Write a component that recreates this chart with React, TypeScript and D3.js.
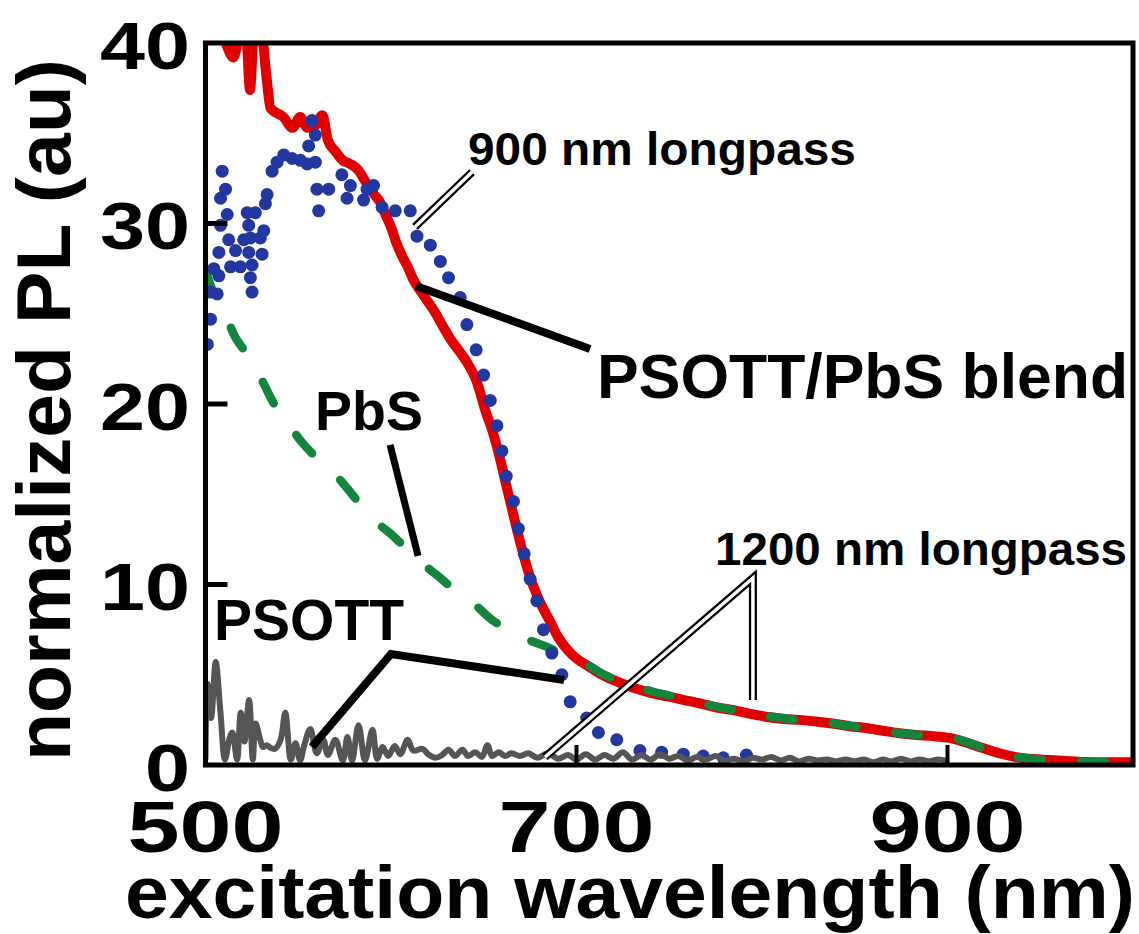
import React from "react";
import * as d3 from "d3";

const W = 1139;
const H = 934;

// PSOTT/PbS blend (red)
const blendNm = [505, 510, 515, 519, 522, 524, 526, 530, 533, 535, 542, 547, 551, 555, 559, 563, 566, 570, 574, 578, 582, 587, 591, 594, 597, 600, 603, 606, 609, 612, 615, 619, 623, 628, 632, 637, 641, 646, 651, 655, 658, 661, 664, 668, 671, 675, 680, 686, 690, 695, 700, 706, 712, 720, 730, 740, 749, 758, 767, 775, 784, 793, 803, 812, 820, 830, 838, 847, 856, 865, 873, 883, 892, 901, 910, 919, 928, 937, 946, 955, 964, 973, 985, 999];
const blendPL = [41, 40.2, 39.2, 40.6, 40.3, 37.4, 40.4, 40.6, 38, 36.4, 35.9, 35.3, 35.9, 35.3, 35.4, 36.0, 34.6, 34.0, 33.5, 33.3, 33.0, 32.2, 31.6, 31.2, 30.5, 29.8, 28.9, 28.2, 27.6, 26.9, 26.4, 25.8, 25.2, 24.3, 23.6, 22.9, 22.3, 21.3, 19.6, 18.4, 17.3, 16.0, 14.7, 13.0, 11.8, 10.4, 9.1, 7.9, 7.1, 6.4, 5.9, 5.5, 5.1, 4.7, 4.3, 4.0, 3.8, 3.6, 3.4, 3.2, 3.05, 2.85, 2.66, 2.55, 2.5, 2.4, 2.3, 2.15, 2.05, 1.9, 1.77, 1.66, 1.6, 1.5, 1.25, 0.94, 0.65, 0.44, 0.33, 0.28, 0.22, 0.17, 0.15, 0.15];

// PbS (green dashed)
const pbsNm = [500, 503, 507, 512, 516, 522, 530, 537, 544, 551, 560, 569, 579, 589, 600, 614, 625, 633, 645, 655, 665, 675, 685, 695, 705, 715, 725, 740, 750, 760, 775, 790, 800, 815, 830, 845, 860, 875, 890, 905, 915, 925, 935, 950, 965, 980, 1000];
const pbsPL = [27.4, 26.5, 25.4, 24.6, 23.7, 22.8, 21.4, 20.0, 19.0, 18.0, 17.0, 16.2, 15.0, 13.7, 12.8, 11.4, 10.5, 9.8, 8.9, 8.0, 7.4, 6.9, 6.5, 6.0, 5.6, 5.0, 4.6, 4.1, 3.85, 3.6, 3.25, 2.95, 2.75, 2.55, 2.45, 2.2, 2.0, 1.75, 1.62, 1.45, 1.1, 0.75, 0.5, 0.3, 0.2, 0.17, 0.17];

// 900 nm longpass (blue dots)
const lp900Nm = [501, 502.7, 502.7, 504.5, 506.3, 507.2, 507.2, 508.1, 508.1, 509, 510.8, 511.7, 512.5, 513.5, 516.2, 518.8, 520.6, 522.5, 523.3, 523.3, 524.2, 524.2, 525.1, 525.1, 526.9, 529.6, 530.5, 531.4, 532.3, 533.2, 535.9, 538.6, 542.2, 546.7, 551.2, 554.8, 555.6, 557.4, 559.2, 559.2, 560.1, 561.0, 566.4, 573.5, 576.3, 578.1, 585.2, 587.1, 590.6, 595.2, 602.3, 610.4, 614.0, 621.2, 626.6, 631.0, 637.3, 640.9, 645.9, 649.9, 653.5, 657.1, 659.8, 662.1, 666.0, 668.7, 671.8, 675.0, 678.6, 682.2, 686.7, 692.1, 696.6, 705.5, 711.8, 721.7, 734.2, 745.9, 757.6, 768.3, 779.1, 791.6];
const lp900PL = [23.3, 24.7, 26.2, 27.5, 26.1, 27.1, 28.4, 29.9, 31.4, 32.9, 31.9, 30.5, 29.1, 27.6, 28.5, 27.6, 29.1, 30.6, 29.9, 28.4, 29.2, 27.0, 27.7, 26.2, 30.6, 29.2, 28.3, 29.6, 31.1, 31.6, 32.9, 33.4, 33.8, 33.6, 33.5, 33.3, 34.3, 35.7, 34.9, 33.4, 31.9, 30.7, 31.9, 32.7, 31.4, 32.1, 31.3, 31.9, 32.1, 30.9, 30.7, 30.7, 29.3, 28.8, 27.9, 27.0, 25.9, 24.4, 23.0, 21.6, 20.2, 18.8, 17.4, 16.0, 14.6, 13.1, 11.7, 10.3, 9.1, 7.5, 6.2, 5.0, 3.5, 2.6, 1.8, 1.4, 0.8, 0.7, 0.6, 0.5, 0.4, 0.55];

// PSOTT (grey)
const psottNm = [500, 501, 503, 505.5, 508, 510.5, 513, 514.5, 517, 519, 521, 523.5, 525.5, 527, 529.5, 531, 533, 535, 537.5, 540.5, 543, 546, 548.5, 551, 553, 556.5, 560, 563.5, 566, 570, 574, 576.5, 579, 582.5, 586, 590, 592.5, 595.5, 598.5, 602, 605, 609, 612, 617, 620, 624, 627.5, 631, 634.5, 638.5, 641.5, 645.5, 649, 652, 654.5, 658, 661.5, 665, 669.5, 674, 679, 684.5, 690, 695.5, 700, 705, 710, 715, 720, 725, 730, 735, 740, 745, 750, 755, 760, 765, 770, 775, 780, 785, 790, 795, 800, 805, 810, 815, 820, 825, 830, 835, 840, 845, 850, 855, 860, 865, 870, 875, 880, 885, 890, 895, 900];
const psottPL = [0.3, 4.5, 2.6, 5.7, 3.0, 0.3, 1.5, 1.8, 0.3, 2.9, 1.3, 3.6, 0.3, 2.3, 1.4, 1.0, 1.1, 0.95, 0.9, 1.4, 2.9, 0.3, 1.2, 0.25, 1.0, 2.0, 0.65, 1.4, 0.55, 1.4, 0.25, 1.55, 0.25, 2.2, 0.25, 1.95, 0.35, 1.0, 0.5, 1.05, 0.6, 1.4, 0.8, 0.9, 0.6, 0.4, 0.55, 0.85, 0.5, 0.85, 0.5, 0.7, 0.45, 1.1, 0.5, 0.7, 0.5, 0.65, 0.5, 0.65, 0.4, 0.65, 0.35, 0.55, 0.3, 0.6, 0.3, 0.55, 0.35, 0.7, 0.3, 0.55, 0.3, 0.6, 0.35, 0.5, 0.25, 0.45, 0.3, 0.5, 0.25, 0.35, 0.2, 0.4, 0.3, 0.45, 0.25, 0.4, 0.2, 0.35, 0.25, 0.3, 0.2, 0.3, 0.2, 0.3, 0.15, 0.3, 0.2, 0.35, 0.2, 0.3, 0.2, 0.3, 0.2];

const xTicks = [500, 700, 900];
const yTicks = [0, 10, 20, 30, 40];

const FONT = "'Liberation Sans', Arial, Helvetica, sans-serif";

export default function App() {
  const x = d3.scaleLinear().domain([500, 1000]).range([205.5, 1133]);
  const y = d3.scaleLinear().domain([0, 40]).range([765, 43]);
  const [x0, x1] = x.range();
  const [yb, yt] = y.range();

  const mk = (a: number[], b: number[]) => a.map((v, i) => [v, b[i]] as [number, number]);
  const smooth = d3
    .line<[number, number]>()
    .x((d) => x(d[0]))
    .y((d) => y(d[1]))
    .curve(d3.curveCatmullRom.alpha(0.5));
  const mono = d3
    .line<[number, number]>()
    .x((d) => x(d[0]))
    .y((d) => y(d[1]))
    .curve(d3.curveMonotoneX);

  const blend = mk(blendNm, blendPL);
  const pbs = mk(pbsNm, pbsPL);
  const dots = mk(lp900Nm, lp900PL);
  const psott = mk(psottNm, psottPL);

  const P = (nm: number, v: number) => `${x(nm)},${y(v)}`;

  const label = (
    txt: string,
    nm: number,
    v: number,
    size: number,
    len: number
  ) => (
    <text
      x={x(nm)}
      y={y(v)}
      fontSize={size}
      fontWeight="bold"
      fontFamily={FONT}
      textLength={len}
      lengthAdjust="spacingAndGlyphs"
    >
      {txt}
    </text>
  );

  const doubleLine = (pts: string) => (
    <g>
      <polyline points={pts} fill="none" stroke="#000" strokeWidth={8} strokeLinejoin="miter" />
      <polyline points={pts} fill="none" stroke="#fff" strokeWidth={3.5} strokeLinejoin="miter" />
    </g>
  );

  return (
    <svg
      width={W}
      height={H}
      style={{ position: "absolute", left: 0, top: 0, background: "#fff" }}
    >
      <defs>
        <clipPath id="plot">
          <rect x={x0} y={yt} width={x1 - x0} height={yb - yt} />
        </clipPath>
      </defs>
      <rect width={W} height={H} fill="#fff" />
      <g clipPath="url(#plot)">
        <path
          d={mono(blend) || ""}
          fill="none"
          stroke="#e00000"
          strokeWidth={10}
          strokeLinejoin="round"
          strokeLinecap="round"
        />
        <path
          d={smooth(pbs) || ""}
          fill="none"
          stroke="#14853c"
          strokeWidth={8.5}
          strokeDasharray="24 39"
          strokeLinecap="round"
        />
        {dots.map((d, i) => (
          <circle key={i} cx={x(d[0])} cy={y(d[1])} r={6.5} fill="#2337a0" />
        ))}
        <path
          d={smooth(psott) || ""}
          fill="none"
          stroke="#555"
          strokeWidth={6}
          strokeLinejoin="round"
        />
      </g>

      {/* leader lines */}
      {doubleLine([P(612.9, 29.81), P(643.7, 32.85)].join(" "))}
      {doubleLine([P(683.0, 0.44), P(795.1, 10.36), P(795.1, 3.6)].join(" "))}
      <line
        x1={x(613.5)}
        y1={y(26.54)}
        x2={x(707.3)}
        y2={y(23.05)}
        stroke="#000"
        strokeWidth={8}
      />
      <line
        x1={x(599.5)}
        y1={y(17.73)}
        x2={x(614.6)}
        y2={y(11.58)}
        stroke="#000"
        strokeWidth={7}
      />
      <polyline
        points={[P(557.4, 1.0), P(600.0, 6.15), P(693.3, 4.71)].join(" ")}
        fill="none"
        stroke="#000"
        strokeWidth={8}
        strokeLinejoin="miter"
      />

      {/* labels */}
      {label("900 nm longpass", 641.5, 33.24, 47, 388)}
      {label("PSOTT/PbS blend", 711.1, 20.33, 63, 531)}
      {label("PbS", 559.0, 18.56, 56, 108)}
      {label("PSOTT", 504.6, 6.93, 58, 190)}
      {label("1200 nm longpass", 774.7, 11.08, 47, 412)}

      {/* frame */}
      <rect
        x={x0}
        y={yt}
        width={x1 - x0}
        height={yb - yt}
        fill="none"
        stroke="#000"
        strokeWidth={5}
      />
      {yTicks
        .filter((t) => t > 0 && t < 40)
        .map((t) => (
          <line key={t} x1={x0} x2={x0 + 22} y1={y(t)} y2={y(t)} stroke="#000" strokeWidth={5} />
        ))}
      {xTicks
        .filter((t) => t > 500)
        .map((t) => (
          <line key={t} x1={x(t)} x2={x(t)} y1={yb} y2={yb - 20} stroke="#000" strokeWidth={4} />
        ))}

      {/* tick labels */}
      {yTicks.map((t) => (
        <text
          key={t}
          x={190}
          y={Math.max(y(t) + 2, 27)}
          dy="0.36em"
          textAnchor="end"
          fontSize={66}
          fontWeight="bold"
          fontFamily={FONT}
          textLength={String(t).length * 45}
          lengthAdjust="spacingAndGlyphs"
        >
          {t}
        </text>
      ))}
      {xTicks.map((t) => (
        <text
          key={t}
          x={x(t)}
          y={852}
          textAnchor="middle"
          fontSize={72}
          fontWeight="bold"
          fontFamily={FONT}
          textLength={156}
          lengthAdjust="spacingAndGlyphs"
        >
          {t}
        </text>
      ))}

      {/* axis titles */}
      <text
        x={630}
        y={918}
        textAnchor="middle"
        fontSize={74}
        fontWeight="bold"
        fontFamily={FONT}
        textLength={1010}
        lengthAdjust="spacingAndGlyphs"
      >
        excitation wavelength (nm)
      </text>
      <text
        transform={`translate(70,410) rotate(-90)`}
        textAnchor="middle"
        fontSize={76}
        fontWeight="bold"
        fontFamily={FONT}
        textLength={702}
        lengthAdjust="spacingAndGlyphs"
      >
        normalized PL (au)
      </text>
    </svg>
  );
}
